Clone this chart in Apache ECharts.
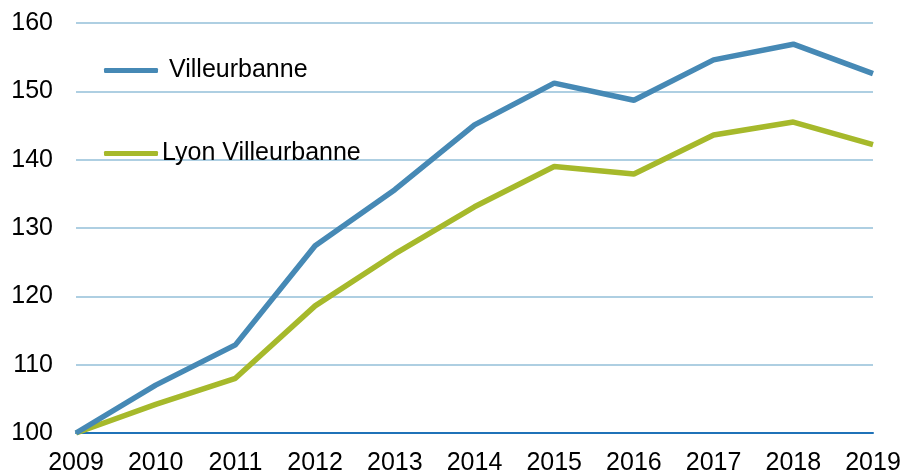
<!DOCTYPE html>
<html>
<head>
<meta charset="utf-8">
<script src="https://cdn.jsdelivr.net/npm/echarts@6/dist/echarts.min.js"></script>
<style>
html,body{margin:0;padding:0;background:#fff;}
#chart{width:901px;height:472px;}
</style>
</head>
<body>
<div id="chart"></div>
<script>
const years = ['2009','2010','2011','2012','2013','2014','2015','2016','2017','2018','2019'];
const villeurbanne = [100, 107.0, 112.9, 127.4, 135.6, 145.1, 151.2, 148.7, 154.6, 156.9, 152.6];
const lyonVilleurbanne = [100, 104.2, 108.0, 118.6, 126.2, 133.1, 139.0, 137.9, 143.6, 145.5, 142.2];
const seriesNames = ['Villeurbanne', 'Lyon Villeurbanne'];
const yTicks = [100, 110, 120, 130, 140, 150, 160];

const FONT = 'Liberation Sans, Arial, sans-serif';
const chart = echarts.init(document.getElementById('chart'), null, {renderer: 'canvas'});
chart.setOption({
  animation: false,
  backgroundColor: '#ffffff',
  grid: {left: 76, right: 28, top: 23, bottom: 39, containLabel: false, outerBoundsMode: 'none'},
  legend: [
    {
      data: [seriesNames[0]], left: 104, top: 58, padding: 0, itemWidth: 54, itemHeight: 5, itemGap: 12,
      icon: 'roundRect',
      textStyle: {fontFamily: FONT, fontSize: 25, color: '#000', padding: [0,0,0,6]},
      selectedMode: false
    },
    {
      data: [seriesNames[1]], left: 104, top: 141, padding: 0, itemWidth: 54, itemHeight: 5, itemGap: 4,
      icon: 'roundRect',
      textStyle: {fontFamily: FONT, fontSize: 25, color: '#000', padding: [0,0,0,-1]},
      selectedMode: false
    }
  ],
  xAxis: {
    type: 'category', data: years, boundaryGap: false,
    axisLine: {show: true, lineStyle: {color: '#1f72b8', width: 2}},
    axisTick: {show: false},
    axisLabel: {fontFamily: FONT, fontSize: 25, color: '#000', margin: 18},
    splitLine: {show: false}
  },
  yAxis: {
    type: 'value', min: yTicks[0], max: yTicks[yTicks.length-1], interval: 10,
    axisLine: {show: false}, axisTick: {show: false},
    axisLabel: {fontFamily: FONT, fontSize: 25, color: '#000', margin: 23},
    splitLine: {show: true, lineStyle: {color: '#93bfd9', width: 1.5}}
  },
  series: [
    {
      name: seriesNames[0], type: 'line', data: villeurbanne, symbol: 'none',
      lineStyle: {color: '#4689b5', width: 5.5}, itemStyle: {color: '#4689b5'}, z: 3
    },
    {
      name: seriesNames[1], type: 'line', data: lyonVilleurbanne, symbol: 'none',
      lineStyle: {color: '#a6b92b', width: 5.5}, itemStyle: {color: '#a6b92b'}, z: 2
    }
  ]
});
</script>
</body>
</html>
